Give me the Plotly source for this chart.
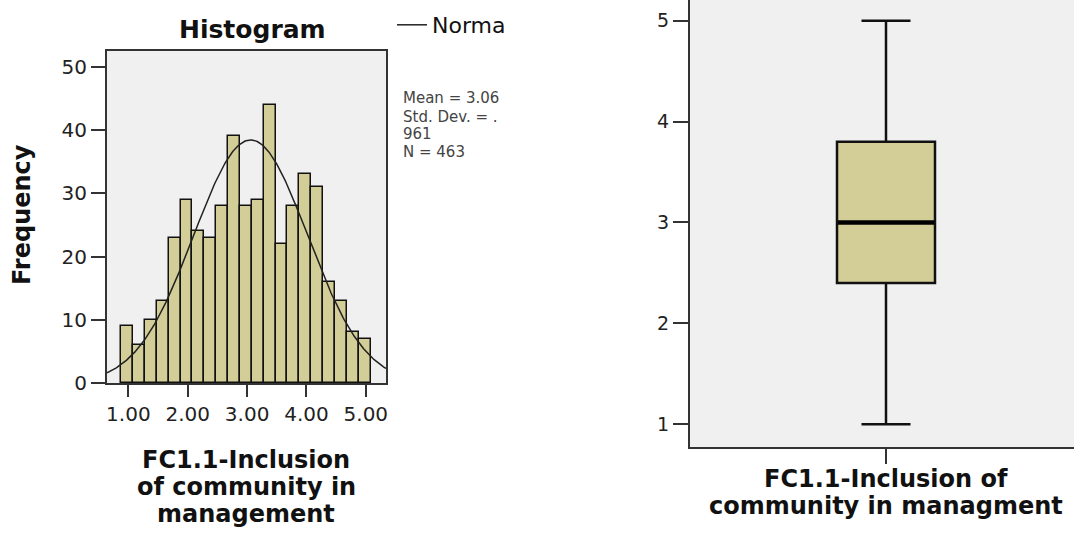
import numpy as np
import plotly.graph_objects as go

# ---- data ----
bin_centers = [0.98, 1.18, 1.38, 1.58, 1.78, 1.98, 2.18, 2.38, 2.58, 2.78, 2.98,
               3.18, 3.38, 3.58, 3.78, 3.98, 4.18, 4.38, 4.58, 4.78, 4.98]
frequencies = [9, 6, 10, 13, 23, 29, 24, 23, 28, 39, 28,
               29, 44, 22, 28, 33, 31, 16, 13, 8, 7]
bin_width = 0.2
stat_mean = 3.06
stat_sd = 0.961
stat_n = 463
hist_xticks = [1, 2, 3, 4, 5]
hist_yticks = [0, 10, 20, 30, 40, 50]

box_min = 1.0
box_q1 = 2.4
box_median = 3.0
box_q3 = 3.8
box_max = 5.0
box_yticks = [1, 2, 3, 4, 5]

stats_lines = ["Mean = 3.06", "Std. Dev. = .", "961", "N = 463"]

BAR = "#D3CE97"
BG = "#F0F0F0"
AX = "#333333"
W, H = 1074, 541


def px(x):
    return x / W


def py(y):
    return 1 - y / H


fig = go.Figure()

fig.add_trace(go.Bar(
    x=bin_centers, y=frequencies, width=bin_width,
    marker=dict(color=BAR, line=dict(color="#111111", width=1.5)),
    showlegend=False, xaxis="x", yaxis="y", hoverinfo="skip"))

# normal curve from the stated statistics
xs = np.linspace(0.64, 5.34, 300)
ys = stat_n * bin_width / (stat_sd * np.sqrt(2 * np.pi)) * np.exp(-0.5 * ((xs - stat_mean) / stat_sd) ** 2)
fig.add_trace(go.Scatter(x=xs, y=ys, mode="lines", name="Norma",
                         line=dict(color="#222222", width=1.5),
                         xaxis="x", yaxis="y", hoverinfo="skip"))

fig.add_trace(go.Box(
    x=[0], q1=[box_q1], median=[box_median], q3=[box_q3],
    lowerfence=[box_min], upperfence=[box_max],
    width=0.98, whiskerwidth=0.5, fillcolor=BAR,
    line=dict(color="#111111", width=2.5), boxpoints=False,
    showlegend=False, xaxis="x2", yaxis="y2", hoverinfo="skip"))

# thicker median line
fig.add_trace(go.Scatter(x=[-0.48, 0.48], y=[box_median, box_median], mode="lines",
                         line=dict(color="#000000", width=4.5), showlegend=False,
                         xaxis="x2", yaxis="y2", hoverinfo="skip"))

tickfont = dict(family="DejaVu Sans", size=20, color="#222222")

fig.update_layout(
    width=W, height=H, autosize=False,
    margin=dict(l=0, r=0, t=0, b=0, autoexpand=False),
    paper_bgcolor="white", plot_bgcolor=BG,
    xaxis=dict(domain=[px(107), px(386)], range=[0.64, 5.34],
               tickvals=hist_xticks, ticktext=[f"{v:.2f}" for v in hist_xticks],
               ticks="outside", ticklen=12, tickwidth=2, tickcolor=AX,
               showline=True, linewidth=2, linecolor=AX, mirror=True, automargin=False,
               showgrid=False, zeroline=False, tickfont=tickfont, anchor="y"),
    yaxis=dict(domain=[py(383), py(51)], range=[0, 52.5],
               tickvals=hist_yticks,
               ticks="outside", ticklen=14, tickwidth=2, tickcolor=AX,
               showline=True, linewidth=2, linecolor=AX, mirror=True, automargin=False,
               showgrid=False, zeroline=False, tickfont=tickfont, anchor="x"),
    xaxis2=dict(domain=[px(690), 1.0], range=[-1.96, 1.88],
                tickvals=[0], ticktext=[""],
                ticks="outside", ticklen=15, tickwidth=2, tickcolor=AX,
                showline=True, linewidth=2, linecolor=AX, mirror=True, automargin=False,
                showgrid=False, zeroline=False, anchor="y2"),
    yaxis2=dict(domain=[py(447), 1.0], range=[0.775, 5.205],
                tickvals=box_yticks,
                ticks="outside", ticklen=15, tickwidth=2, tickcolor=AX,
                showline=True, linewidth=2, linecolor=AX, mirror=False, automargin=False,
                showgrid=False, zeroline=False,
                tickfont=dict(family="DejaVu Sans", size=19, color="#222222"),
                anchor="x2"),
    legend=dict(x=px(392), y=py(25), xanchor="left", yanchor="middle",
                bgcolor="rgba(0,0,0,0)", borderwidth=0,
                font=dict(family="DejaVu Sans", size=22, color="#111111")),
    bargap=0,
)

ann = []
bold = dict(family="DejaVu Sans", size=25, color="#111111")
ann.append(dict(text="<b>Histogram</b>", x=px(252), y=py(29), xref="paper", yref="paper",
                showarrow=False, xanchor="center", yanchor="middle", font=bold))
ann.append(dict(text="<b>Frequency</b>", x=px(22), y=py(215), xref="paper", yref="paper",
                showarrow=False, xanchor="center", yanchor="middle", textangle=-90,
                font=dict(family="DejaVu Sans", size=24, color="#111111")))
for t, yc in zip(["FC1.1-Inclusion", "of community in", "management"], [460, 487, 514]):
    ann.append(dict(text=f"<b>{t}</b>", x=px(246), y=py(yc), xref="paper", yref="paper",
                    showarrow=False, xanchor="center", yanchor="middle",
                    font=dict(family="DejaVu Sans", size=24, color="#111111")))
for t, yc in zip(["FC1.1-Inclusion of", "community in managment"], [479, 506]):
    ann.append(dict(text=f"<b>{t}</b>", x=px(886), y=py(yc), xref="paper", yref="paper",
                    showarrow=False, xanchor="center", yanchor="middle",
                    font=dict(family="DejaVu Sans", size=24, color="#111111")))
for t, yc in zip(stats_lines, [98, 117, 134, 152]):
    ann.append(dict(text=t, x=px(401), y=py(yc), xref="paper", yref="paper",
                    showarrow=False, xanchor="left", yanchor="middle",
                    font=dict(family="DejaVu Sans", size=15, color="#444444")))
fig.update_layout(annotations=ann)

fig.write_html("out.html", config={"displayModeBar": False},
               post_script="document.body.style.margin='0';document.body.style.overflow='hidden';")
